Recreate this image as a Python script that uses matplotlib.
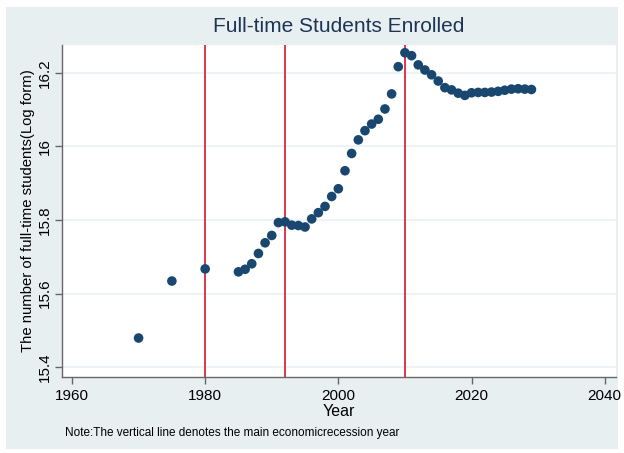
import matplotlib.pyplot as plt
from matplotlib.patches import Rectangle

years = [1970, 1975, 1980] + list(range(1985, 2030))
log_students = [15.479, 15.634, 15.667,
                15.659, 15.666, 15.681, 15.709, 15.738, 15.758, 15.793, 15.795, 15.786, 15.785,
                15.781, 15.803, 15.820, 15.837, 15.864, 15.885, 15.934, 15.981, 16.018, 16.043,
                16.061, 16.074, 16.102, 16.143, 16.217, 16.255, 16.247, 16.222, 16.208, 16.195,
                16.178, 16.160, 16.154, 16.145, 16.139, 16.146, 16.147, 16.147, 16.148, 16.150,
                16.153, 16.156, 16.157, 16.156, 16.155]
recession_years = [1980, 1992, 2010]
x_ticks = [1960, 1980, 2000, 2020, 2040]
y_ticks = [15.4, 15.6, 15.8, 16.0, 16.2]
y_tick_labels = ['15.4', '15.6', '15.8', '16', '16.2']

plt.rcParams['font.family'] = ['Liberation Sans', 'DejaVu Sans']

fig = plt.figure(figsize=(6.24, 4.53), dpi=100)
fig.patch.set_facecolor('white')
# light stata-like background panel with a thin white margin
fig.patches.append(Rectangle((6 / 624, 4 / 453), 612 / 624, 442 / 453, transform=fig.transFigure,
                             facecolor='#e8eff1', edgecolor='none', zorder=-1))

ax = fig.add_axes([62 / 624, 1 - 377 / 453, 554 / 624, 332 / 453])
ax.set_facecolor('white')

for yr in recession_years:
    ax.axvline(yr, color='#d9283a', linewidth=1.3, zorder=2)

ax.scatter(years, log_students, s=48, color='#1a476f', edgecolors='none', zorder=3)

ax.set_xlim(1958.5, 2041.7)
ax.set_ylim(15.373, 16.276)
ax.set_xticks(x_ticks)
ax.set_yticks(y_ticks)
ax.set_yticklabels(y_tick_labels, rotation=90, va='center')
ax.yaxis.grid(True, color='#eaf2f3', linewidth=1.2, zorder=0)
ax.set_axisbelow(True)

for side in ['top', 'right']:
    ax.spines[side].set_visible(False)
for side in ['left', 'bottom']:
    ax.spines[side].set_color('#666666')
    ax.spines[side].set_linewidth(1)
ax.tick_params(axis='both', colors='#666666', labelcolor='black', labelsize=11, length=5, width=1)
ax.tick_params(axis='y', pad=2.5)

ax.set_xlabel('Year', fontsize=11.5, labelpad=1)
ax.set_ylabel('The number of full-time students(Log form)', fontsize=10.7, labelpad=1.5)
fig.text(339 / 624, 1 - 27 / 453, 'Full-time Students Enrolled', ha='center', va='center',
         fontsize=15, color='#1e3454')
fig.text(65 / 624, 1 - 433 / 453, 'Note:The vertical line denotes the main economicrecession year',
         ha='left', va='center', fontsize=8.5)

fig.savefig('out.png', dpi=100, facecolor=fig.get_facecolor())
